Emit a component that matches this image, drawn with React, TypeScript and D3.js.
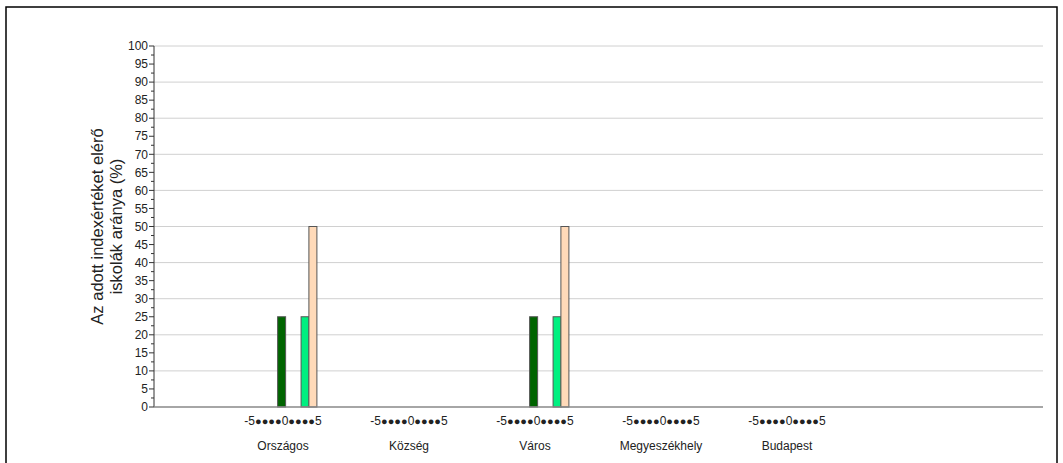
import React from 'react';
import * as d3 from 'd3';

const groups = ['Országos', 'Község', 'Város', 'Megyeszékhely', 'Budapest'];
const slotLabels = ['-5', '●', '●', '●', '●', '0', '●', '●', '●', '●', '5'];
// bars: value per group for each series, placed on the -5..5 index scale
const darkValues = [25, 0, 25, 0, 0];
const lightValues = [25, 0, 25, 0, 0];
const peachValues = [50, 0, 50, 0, 0];
const seriesPos = [-0.15, 2.4, 3.25];
const seriesColors = ['#006400', '#00f080', '#ffdab9'];
const yTicks = d3.range(0, 101, 5);

const W = 1063, H = 463;
const left = 154, right = 1043, top = 46, bottom = 407;

export default function App() {
  const y = d3.scaleLinear().domain([0, 100]).range([bottom, top]);
  const gx = d3.scaleLinear().domain([0, 4]).range([283, 787]);
  const sx = d3.scaleLinear().domain([-5, 5]).range([-46, 46]);
  const series = [darkValues, lightValues, peachValues];
  const font = 'Arial, "Liberation Sans", sans-serif';
  return (
    <svg width={W} height={H} style={{ position: 'absolute', left: 0, top: 0 }} fontFamily={font}>
      <rect x={6} y={7} width={1051} height={470} fill="white" stroke="#000" strokeWidth={1.5} />
      {yTicks.filter(t => t % 10 === 0 && t > 0).map(t => (
        <line key={t} x1={left} x2={right} y1={y(t)} y2={y(t)} stroke="#d0d0d0" />
      ))}
      <line x1={left} x2={left} y1={top} y2={bottom} stroke="#333" />
      {d3.range(0, 100.1, 2.5).map(t => (
        <line key={t} x1={left - (t % 5 === 0 ? 5 : 3)} x2={left} y1={y(t)} y2={y(t)} stroke="#333" />
      ))}
      {yTicks.map(t => (
        <text key={t} x={left - 6} y={y(t)} dy="0.35em" textAnchor="end" fontSize={12} fill="#222">{t}</text>
      ))}
      <text transform={`translate(103,${(top + bottom) / 2}) rotate(-90)`} textAnchor="middle" fontSize={16.5} fill="#222">
        <tspan x={0} dy={0}>Az adott indexértéket elérő</tspan>
        <tspan x={0} dy={19}>iskolák aránya  (%)</tspan>
      </text>
      {groups.map((g, gi) => (
        <g key={g} transform={`translate(${gx(gi)},0)`}>
          {series.map((vals, si) => vals[gi] > 0 && (
            <rect key={si} x={sx(seriesPos[si]) - 4} y={y(vals[gi])} width={8} height={bottom - y(vals[gi])}
              fill={seriesColors[si]} stroke="#555" strokeWidth={1} />
          ))}
          <text y={425} textAnchor="middle" fontSize={12} fill="#222">
            {slotLabels.map((s, i) => (
              <tspan key={i} fontSize={s === '●' ? 11 : 12}>{s}</tspan>
            ))}
          </text>
          <text y={450} textAnchor="middle" fontSize={12} fill="#222">{g}</text>
        </g>
      ))}
      <line x1={left} x2={right} y1={bottom} y2={bottom} stroke="#888" strokeWidth={1.5} />
    </svg>
  );
}
